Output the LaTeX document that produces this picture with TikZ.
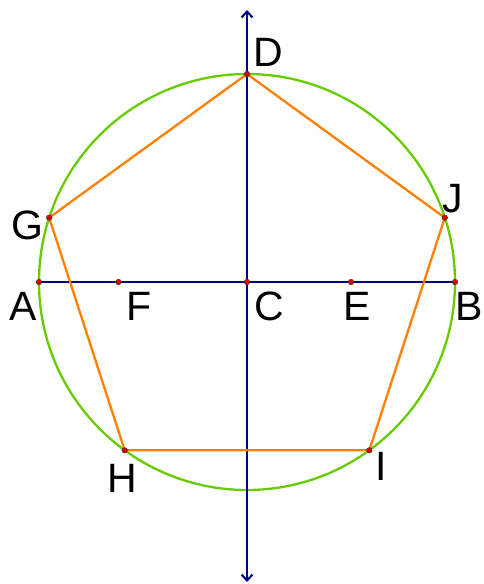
\documentclass[tikz,border=0pt]{standalone}
\usepackage{fontspec}
\setmainfont{Liberation Sans}
\usetikzlibrary{arrows.meta}
\definecolor{circgreen}{HTML}{66CC00}
\definecolor{pentorange}{HTML}{FF8000}
\definecolor{axisnavy}{HTML}{000080}
\definecolor{dotred}{HTML}{E00000}
\tikzset{
  axisline/.style={draw=axisnavy, line width=2.7pt},
  circline/.style={draw=circgreen, line width=2.3pt},
  pentline/.style={draw=pentorange, line width=2.3pt},
  ptdot/.style={circle, fill=dotred, draw=black!75, line width=0.6pt, inner sep=0pt, minimum size=5.5pt},
  ptlabel/.style={inner sep=0pt, font=\fontsize{41}{41}\selectfont, text=black}
}
\begin{document}
\begin{tikzpicture}[x=1pt, y=-1pt]
\useasboundingbox (0,0) rectangle (483,584);
% points
\coordinate (C) at (247,282);
\coordinate (D) at (247,74);
\coordinate (J) at (444.8,217.7);
\coordinate (I) at (369.3,450.3);
\coordinate (H) at (124.7,450.3);
\coordinate (G) at (49.2,217.7);
\coordinate (A) at (39,282);
\coordinate (B) at (455,282);
\coordinate (E) at (351,282);
\coordinate (F) at (118.5,282);
\coordinate (top) at (247,10);
\coordinate (bot) at (247,582);
% circle
\draw[circline] (C) circle[radius=208pt];
% axes
\draw[axisline] (A) -- (B);
\draw[axisline, {Straight Barb[length=6pt,width=11pt,line width=2pt]}-{Straight Barb[length=6pt,width=11pt,line width=2pt]}] (top) -- (bot);
% pentagon
\draw[pentline, line join=round] (D) -- (J) -- (I) -- (H) -- (G) -- cycle;
% dots
\foreach \p in {A,B,C,D,E,F,G,H,I,J}
  \node[ptdot] (dot\p) at (\p) {};
% labels
\node[ptlabel] (lA) at (23,306) {A};
\node[ptlabel] (lF) at (139,306) {F};
\node[ptlabel] (lC) at (269,306) {C};
\node[ptlabel] (lE) at (357,306) {E};
\node[ptlabel] (lB) at (469.5,306) {B};
\node[ptlabel] (lD) at (268,52) {D};
\node[ptlabel] (lG) at (27,225) {G};
\node[ptlabel] (lJ) at (453,199) {J};
\node[ptlabel] (lH) at (122,478) {H};
\node[ptlabel] (lI) at (381,466) {I};
\end{tikzpicture}
\end{document}
